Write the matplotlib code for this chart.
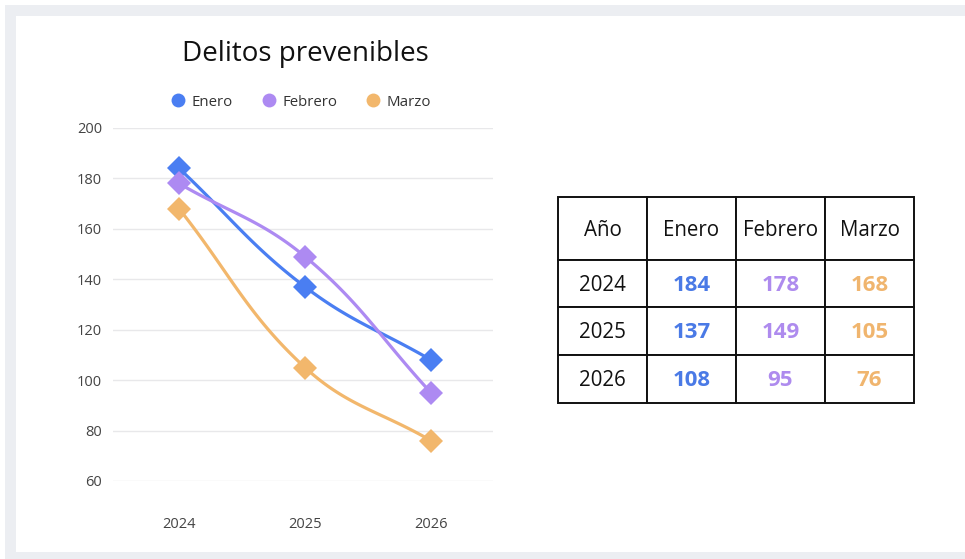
import numpy as np
import matplotlib
matplotlib.use("Agg")
import matplotlib.pyplot as plt
from matplotlib.patches import Rectangle
from matplotlib.lines import Line2D

plt.rcParams['font.family'] = ['Open Sans', 'DejaVu Sans']

# ---- data ----
years = ["2024", "2025", "2026"]
series_names = ["Enero", "Febrero", "Marzo"]
enero = [184, 137, 108]
febrero = [178, 149, 95]
marzo = [168, 105, 76]
y_ticks = [60, 80, 100, 120, 140, 160, 180, 200]
title = "Delitos prevenibles"
table_header = ["Año", "Enero", "Febrero", "Marzo"]

colors = ["#4A7EF2", "#AD8AF2", "#F2B76C"]
table_colors = ["#4A7AE6", "#AE8BEE", "#F0B56E"]

W, H = 965, 559
fig = plt.figure(figsize=(W / 100, H / 100), dpi=100)
fig.patch.set_facecolor("white")

# background frame
fig.add_artist(Rectangle((5 / W, 0), 1, 1 - 5 / H, transform=fig.transFigure,
                         facecolor="#ECEEF2", edgecolor="none", zorder=-10))
fig.add_artist(Rectangle((16 / W, 1 - 552 / H), 1, (552 - 16) / H, transform=fig.transFigure,
                         facecolor="white", edgecolor="none", zorder=-9))

# ---- line chart ----
ax = fig.add_axes([113 / W, 1 - 481 / H, 380 / W, (481 - 128) / H])
ax.set_facecolor("none")
ax.set_xlim(-0.524, 2.492)
ax.set_ylim(60, 200)
ax.set_yticks(y_ticks)
ax.set_xticks(range(len(years)))
ax.set_xticklabels(years)
for s in ax.spines.values():
    s.set_visible(False)
ax.grid(axis="y", color="#E8E8EA", linewidth=1.0)
ax.set_axisbelow(True)
ax.tick_params(axis="both", length=0, labelsize=10.5, labelcolor="#444444")
ax.tick_params(axis="y", pad=8)
ax.tick_params(axis="x", pad=26)


def smooth_curve(ax, xs, ys, tension=0.4, n=60):
    pts = ax.transData.transform(np.column_stack([xs, ys]))
    m = len(pts)
    cps = []
    for i in range(m):
        prev = pts[i - 1] if i > 0 else pts[i]
        cur = pts[i]
        nxt = pts[i + 1] if i < m - 1 else pts[i]
        d01 = np.hypot(*(cur - prev))
        d12 = np.hypot(*(nxt - cur))
        tot = d01 + d12
        s01 = d01 / tot if tot else 0
        s12 = d12 / tot if tot else 0
        fa, fb = tension * s01, tension * s12
        cps.append((cur - fa * (nxt - prev), cur + fb * (nxt - prev)))
    out = []
    t = np.linspace(0, 1, n)[:, None]
    for i in range(m - 1):
        p0, p3 = pts[i], pts[i + 1]
        p1, p2 = cps[i][1], cps[i + 1][0]
        seg = ((1 - t) ** 3) * p0 + 3 * ((1 - t) ** 2) * t * p1 + 3 * (1 - t) * t ** 2 * p2 + t ** 3 * p3
        out.append(seg if i == 0 else seg[1:])
    out = np.vstack(out)
    return ax.transData.inverted().transform(out)


x = np.arange(len(years))
for k, (vals, c) in enumerate(zip([enero, febrero, marzo], colors)):
    curve = smooth_curve(ax, x, vals)
    ax.plot(curve[:, 0], curve[:, 1], color=c, linewidth=2.3, zorder=3 + k, solid_capstyle="round")
    ax.plot(x, vals, linestyle="none", marker="D", markersize=12.3, color=c,
            markeredgewidth=0, zorder=3 + k, clip_on=False)

fig.text(305 / W, 1 - 54 / H, title, ha="center", va="center", fontsize=20, color="#111111")

handles = [Line2D([], [], linestyle="none", marker="o", markersize=10, color=c, markeredgewidth=0)
           for c in colors]
fig.legend(handles, series_names, loc="center", bbox_to_anchor=(301.5 / W, 1 - 102 / H),
           ncol=3, frameon=False, fontsize=10.8, handlelength=0.8, handletextpad=0.5,
           columnspacing=2.0, labelcolor="#333333")

# ---- table (drawn in pixel-like coordinates of its own axes) ----
tax = fig.add_axes([558 / W, 1 - 403 / H, 356 / W, 206 / H])
tax.set_xlim(0, 356)
tax.set_ylim(206, 0)
tax.axis("off")
col_w = 89
row_edges = [0, 63, 110, 158, 206]
rows = [table_header] + [[years[i], str(enero[i]), str(febrero[i]), str(marzo[i])]
                         for i in range(len(years))]
for r, row in enumerate(rows):
    y0, y1 = row_edges[r], row_edges[r + 1]
    for cidx, val in enumerate(row):
        tax.add_patch(Rectangle((cidx * col_w, y0), col_w, y1 - y0, facecolor="white",
                                edgecolor="#111111", linewidth=1.4, clip_on=False))
        yc = (y0 + y1) / 2 + 2
        if r == 0 or cidx == 0:
            tax.text(cidx * col_w + col_w / 2, yc, val, ha="center", va="center",
                     fontsize=14.8, color="#111111")
        else:
            tax.text(cidx * col_w + col_w / 2, yc, val, ha="center", va="center",
                     fontsize=16, fontweight="bold", color=table_colors[cidx - 1])

fig.savefig("out.png", dpi=100, facecolor="white")
